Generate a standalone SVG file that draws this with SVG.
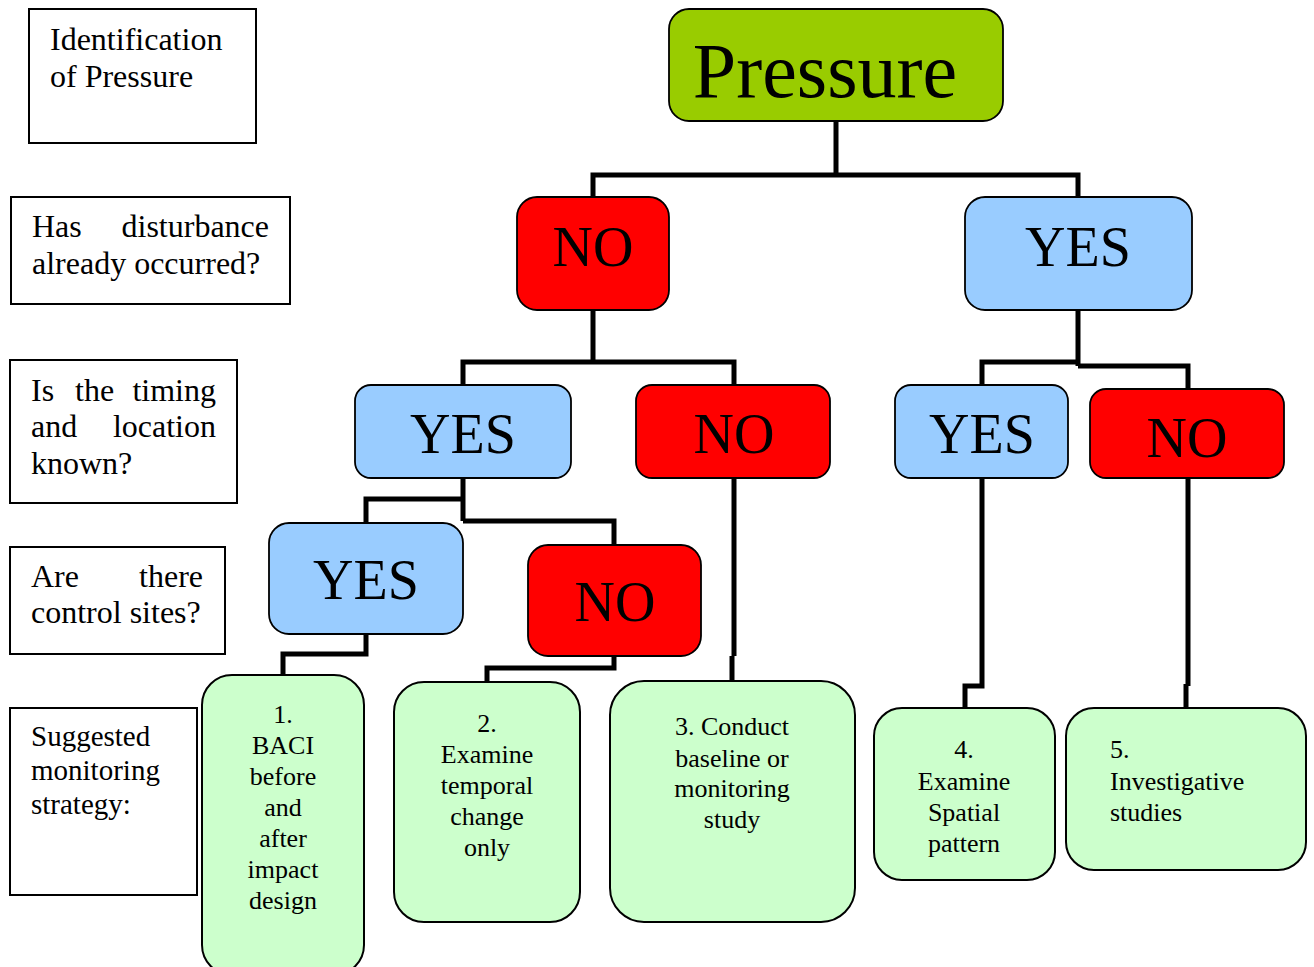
<svg xmlns="http://www.w3.org/2000/svg" width="1314" height="967" viewBox="0 0 1314 967">
  <style>
    text { font-family: "Liberation Serif", "Times New Roman", serif; fill: #000; }
    .label rect { fill: #fff; stroke: #000; stroke-width: 2; }
    .label text { font-size: 32px; }
    .label.small text { font-size: 29px; }
    .no rect { fill: #ff0000; stroke: #000; stroke-width: 1.8; }
    .yes rect { fill: #99ccff; stroke: #000; stroke-width: 1.8; }
    .root rect { fill: #99cc00; stroke: #000; stroke-width: 1.8; }
    .out rect { fill: #ccffcc; stroke: #000; stroke-width: 2; }
    .dec text { font-size: 56px; text-anchor: middle; }
    .out text { font-size: 26px; text-anchor: middle; }
    .out.left text { text-anchor: start; }
    #connectors path { fill: none; stroke: #000; stroke-width: 5; stroke-linejoin: miter; }
  </style>

  <!-- Question column -->
  <g id="q-identification" class="label">
    <rect x="29" y="9" width="227" height="134"/>
    <text x="50" y="50">Identification</text>
    <text x="50" y="87">of Pressure</text>
  </g>
  <g id="q-disturbance" class="label">
    <rect x="11" y="197" width="279" height="107"/>
    <text x="32" y="237">Has</text>
    <text x="269" y="237" text-anchor="end">disturbance</text>
    <text x="32" y="274">already occurred?</text>
  </g>
  <g id="q-timing" class="label">
    <rect x="10" y="360" width="227" height="143"/>
    <text x="31" y="401">Is</text>
    <text x="75" y="401">the</text>
    <text x="216" y="401" text-anchor="end">timing</text>
    <text x="31" y="437">and</text>
    <text x="216" y="437" text-anchor="end">location</text>
    <text x="31" y="474">known?</text>
  </g>
  <g id="q-control" class="label">
    <rect x="10" y="547" width="215" height="107"/>
    <text x="31" y="587">Are</text>
    <text x="203" y="587" text-anchor="end">there</text>
    <text x="31" y="623">control sites?</text>
  </g>
  <g id="q-strategy" class="label small">
    <rect x="10" y="708" width="187" height="187"/>
    <text x="31" y="746">Suggested</text>
    <text x="31" y="780">monitoring</text>
    <text x="31" y="814">strategy:</text>
  </g>

  <!-- Connectors -->
  <g id="connectors">
    <path d="M836 121 V175 M593 197 V175 H1078 V197"/>
    <path d="M593 310 V362 M463 385 V362 H734 V385"/>
    <path d="M1078 310 V366 M982 385 V362 H1078 M1078 366 H1188 V389"/>
    <path d="M463 478 V521 M366 523 V499 H463 M463 521 H614 V545"/>
    <path d="M366 634 V654 H283 V675"/>
    <path d="M614 656 V668 H487 V682"/>
    <path d="M734 478 V656 M732 656 V681"/>
    <path d="M982 478 V686 H965 V708"/>
    <path d="M1188 478 V686 M1186 684 V708"/>
  </g>

  <!-- Decision tree -->
  <g id="n-pressure" class="root">
    <rect x="669" y="9" width="334" height="112" rx="20"/>
    <text x="825" y="97" font-size="78" text-anchor="middle">Pressure</text>
  </g>
  <g id="n-occurred-no" class="dec no">
    <rect x="517" y="197" width="152" height="113" rx="20"/>
    <text x="593" y="266">NO</text>
  </g>
  <g id="n-occurred-yes" class="dec yes">
    <rect x="965" y="197" width="227" height="113" rx="20"/>
    <text x="1078" y="266">YES</text>
  </g>
  <g id="n-known-yes" class="dec yes">
    <rect x="355" y="385" width="216" height="93" rx="16"/>
    <text x="463" y="453">YES</text>
  </g>
  <g id="n-known-no" class="dec no">
    <rect x="636" y="385" width="194" height="93" rx="16"/>
    <text x="734" y="453">NO</text>
  </g>
  <g id="n-known-yes-2" class="dec yes">
    <rect x="895" y="385" width="173" height="93" rx="16"/>
    <text x="982" y="453">YES</text>
  </g>
  <g id="n-known-no-2" class="dec no">
    <rect x="1090" y="389" width="194" height="89" rx="16"/>
    <text x="1187" y="457">NO</text>
  </g>
  <g id="n-control-yes" class="dec yes">
    <rect x="269" y="523" width="194" height="111" rx="20"/>
    <text x="366" y="599">YES</text>
  </g>
  <g id="n-control-no" class="dec no">
    <rect x="528" y="545" width="173" height="111" rx="20"/>
    <text x="615" y="621">NO</text>
  </g>

  <!-- Suggested strategies -->
  <g id="s-baci" class="out">
    <rect x="202" y="675" width="162" height="300" rx="30"/>
    <text x="283" y="723">1.</text>
    <text x="283" y="754">BACI</text>
    <text x="283" y="785">before</text>
    <text x="283" y="816">and</text>
    <text x="283" y="847">after</text>
    <text x="283" y="878">impact</text>
    <text x="283" y="909">design</text>
  </g>
  <g id="s-temporal" class="out">
    <rect x="394" y="682" width="186" height="240" rx="30"/>
    <text x="487" y="732">2.</text>
    <text x="487" y="763">Examine</text>
    <text x="487" y="794">temporal</text>
    <text x="487" y="825">change</text>
    <text x="487" y="856">only</text>
  </g>
  <g id="s-baseline" class="out">
    <rect x="610" y="681" width="245" height="241" rx="34"/>
    <text x="732" y="735">3. Conduct</text>
    <text x="732" y="767">baseline or</text>
    <text x="732" y="797">monitoring</text>
    <text x="732" y="828">study</text>
  </g>
  <g id="s-spatial" class="out">
    <rect x="874" y="708" width="181" height="172" rx="28"/>
    <text x="964" y="758">4.</text>
    <text x="964" y="790">Examine</text>
    <text x="964" y="821">Spatial</text>
    <text x="964" y="852">pattern</text>
  </g>
  <g id="s-investigative" class="out left">
    <rect x="1066" y="708" width="240" height="162" rx="28"/>
    <text x="1110" y="758">5.</text>
    <text x="1110" y="790">Investigative</text>
    <text x="1110" y="821">studies</text>
  </g>
</svg>
